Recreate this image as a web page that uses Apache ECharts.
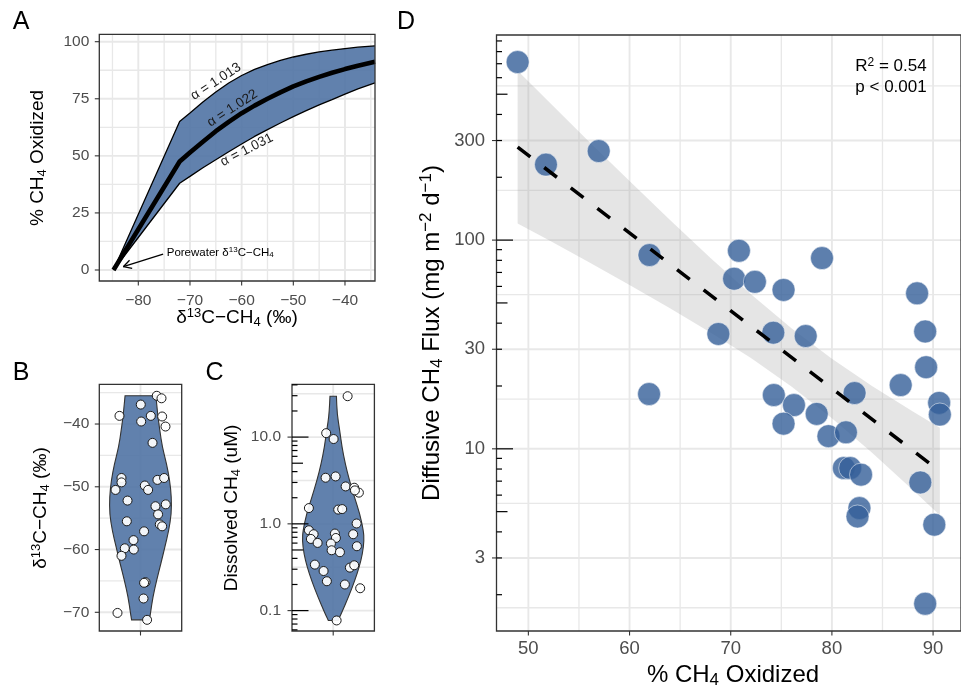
<!DOCTYPE html>
<html><head><meta charset="utf-8">
<script src="https://cdn.jsdelivr.net/npm/echarts@6/dist/echarts.min.js"></script>
<style>html,body{margin:0;padding:0;background:#fff}#c{width:961px;height:687px}</style>
</head><body><div id="c"></div>
<script>
// ---------------- Panel A: Rayleigh curves ----------------
const aDelta     = [-84.8, -72, -70, -67.5, -65, -62.5, -60, -57.5, -55, -52.5, -50, -47.5, -45, -42.5, -40, -37.5, -34.2];
const aAlpha1013 = [0, 65, 68.8, 73.6, 78, 81.9, 85.2, 87.9, 90, 91.8, 93.3, 94.5, 95.5, 96.3, 97, 97.6, 98.2];
const aAlpha1022 = [0, 47.5, 51.5, 56.2, 60.8, 64.9, 68.7, 72, 75, 77.8, 80.4, 82.6, 84.6, 86.4, 88, 89.5, 91.2];
const aAlpha1031 = [0, 38, 41, 44.8, 48.3, 51.8, 55.2, 58.5, 61.5, 64.4, 67.2, 69.8, 72.3, 74.6, 77, 79.3, 82];
const aXTicks = [-80, -70, -60, -50, -40];
const aXLabels = ['\u221280', '\u221270', '\u221260', '\u221250', '\u221240'];
const aXMinor = [-85, -75, -65, -55, -45, -35];
const aYTicks = [0, 25, 50, 75, 100];
const aYLabels = ['0', '25', '50', '75', '100'];
const aYMinor = [12.5, 37.5, 62.5, 87.5];

// ---------------- Panel B: porewater d13C ----------------
const bDelta13C = [-35.5, -35.9, -36.9, -38.7, -38.7, -39.6, -38.8, -40.4, -43.0, -48.6, -49.3, -50.5, -49.8, -50.5, -48.9, -48.6, -52.2, -53.1, -52.8, -54.4, -56.0, -56.3, -55.5, -57.1, -58.5, -59.8, -60.0, -61.0, -65.2, -65.3, -67.8, -71.2, -70.1];
const bJitter = [0.237, 0.306, 0.004, -0.306, 0.150, 0.010, 0.315, 0.364, 0.175, -0.277, -0.277, -0.364, 0.063, 0.111, 0.247, 0.344, -0.189, 0.218, 0.368, 0.256, 0.281, 0.315, -0.199, 0.052, -0.102, -0.229, -0.098, -0.277, 0.073, 0.052, 0.044, 0.096, -0.335];
const bViolinY = [-35.5, -38.4, -41.0, -43.7, -46.3, -49.0, -51.6, -54.3, -57.0, -59.6, -62.3, -64.9, -67.6, -70.2, -71.2];
const bViolinHalfWidth = [0.225, 0.249, 0.281, 0.318, 0.379, 0.426, 0.45, 0.45, 0.411, 0.355, 0.295, 0.235, 0.179, 0.145, 0.130];
const bYTicks = [-70, -60, -50, -40];
const bYLabels = ['\u221270', '\u221260', '\u221250', '\u221240'];
const bYMinor = [-65, -55, -45, -35];

// ---------------- Panel C: dissolved CH4 ----------------
const cDissolvedCH4 = [29.6, 11.1, 9.5, 3.40, 3.52, 2.70, 2.61, 2.29, 2.43, 1.52, 1.46, 1.48, 1.01, 0.844, 0.759, 0.670, 0.603, 0.773, 0.687, 0.593, 0.496, 0.471, 0.759, 0.552, 0.339, 0.286, 0.218, 0.313, 0.333, 0.200, 0.181, 0.077];
const cJitter = [0.210, -0.102, 0.006, -0.111, 0.035, 0.181, 0.306, 0.374, 0.316, -0.354, 0.073, 0.131, 0.341, -0.354, -0.285, -0.325, -0.227, 0.025, 0.039, -0.033, -0.023, 0.098, 0.291, 0.345, -0.267, -0.140, -0.092, 0.243, 0.306, 0.170, 0.393, 0.050];
const cViolinY = [29.6, 18.6, 11.9, 7.67, 4.93, 3.17, 2.04, 1.31, 0.841, 0.646, 0.454, 0.318, 0.223, 0.144, 0.092, 0.077];
const cViolinHalfWidth = [0.047, 0.057, 0.095, 0.128, 0.175, 0.237, 0.309, 0.387, 0.440, 0.450, 0.427, 0.379, 0.316, 0.223, 0.118, 0.071];
const cYTicks = [0.1, 1, 10];
const cYLabels = ['0.1', '1.0', '10.0'];
const cYMinor = [0.0316, 0.316, 3.16, 31.6];

// ---------------- Panel D: flux vs % oxidized ----------------
const dOxidized = [48.94, 51.74, 56.95, 61.97, 70.81, 70.33, 72.39, 75.22, 79.02, 88.42, 68.78, 74.21, 77.41, 89.22, 89.31, 86.80, 82.24, 74.26, 76.25, 78.50, 75.22, 79.66, 81.39, 90.60, 90.67, 81.18, 81.81, 82.88, 88.74, 82.72, 82.53, 90.12, 89.22, 61.93];
const dFlux = [713, 230, 267, 84.8, 88.9, 65.3, 63.1, 57.7, 82.0, 55.6, 35.5, 36.0, 34.7, 36.5, 24.6, 20.2, 18.5, 18.1, 16.2, 14.7, 13.2, 11.5, 12.0, 16.6, 14.6, 8.09, 8.09, 7.52, 6.90, 5.20, 4.74, 4.33, 1.81, 18.3];
const dFitX = [48.94, 90.67];
const dFitY = [279, 7.8];
const dBandX = [48.94, 52, 56, 60, 64, 68, 72, 76, 80, 84, 88, 90.67];
const dBandLow = [120, 100, 78.3, 61.0, 47.2, 36.1, 27.2, 19.9, 14.0, 9.55, 6.35, 4.81];
const dBandHigh = [647, 461, 296, 192, 125, 82.0, 55.0, 37.8, 27.0, 19.95, 15.1, 12.6];
const dXTicks = [50, 60, 70, 80, 90];
const dXLabels = ['50', '60', '70', '80', '90'];
const dXMinor = [55, 65, 75, 85];
const dYTicks = [3, 10, 30, 100, 300];
const dYLabels = ['3', '10', '30', '100', '300'];
const dYMinor = [1.732, 5.477, 17.32, 54.77, 173.2, 547.7];

// ---------------- styling helpers ----------------
const FONT = '"Liberation Sans", Arial, Helvetica, sans-serif';
const GRID_COL = '#E8E8E8';
const TXT = '#4D4D4D';
const BLUE = 'rgba(75,112,162,0.88)';

function rich(size) {
  return {
    n: {fontSize: size, fontFamily: FONT, lineHeight: size * 1.15, verticalAlign: 'middle'},
    sub: {fontSize: Math.round(size * 0.7), fontFamily: FONT, lineHeight: size * 0.55, verticalAlign: 'bottom'},
    sup: {fontSize: Math.round(size * 0.7), fontFamily: FONT, lineHeight: size * 0.55, verticalAlign: 'top'}
  };
}
function zip(a, b) { return a.map((v, i) => [v, b[i]]); }

function decor(cfg, layer) {
  return function (params, api) {
    const cs = params.coordSys;
    const x0 = cs.x, x1 = cs.x + cs.width, y0 = cs.y, y1 = cs.y + cs.height;
    const X = v => api.coord([v, cfg.refY])[0];
    const Y = v => api.coord([cfg.refX, v])[1];
    const ch = [];
    const ln = (a, b, c, d, col, w) => ch.push({type: 'line', shape: {x1: a, y1: b, x2: c, y2: d}, style: {stroke: col, lineWidth: w}});
    if (layer === 'grid') {
      (cfg.yMinor || []).forEach(v => { const p = Y(v); if (p > y0 && p < y1) ln(x0, p, x1, p, GRID_COL, 1.3); });
      (cfg.xMinor || []).forEach(v => { const p = X(v); if (p > x0 && p < x1) ln(p, y0, p, y1, GRID_COL, 1.3); });
      cfg.yMajor.forEach(v => { const p = Y(v); ln(x0, p, x1, p, GRID_COL, 1.9); });
      cfg.xMajor.forEach(v => { const p = X(v); ln(p, y0, p, y1, GRID_COL, 1.9); });
    } else {
      ch.push({type: 'rect', shape: {x: x0, y: y0, width: cs.width, height: cs.height}, style: {fill: 'none', stroke: '#333', lineWidth: 1.3}});
      cfg.xTicks.forEach((v, i) => {
        const p = X(v);
        ln(p, y1, p, y1 + 4.5, '#333', 1.1);
        if (cfg.xLabels) ch.push({type: 'text', x: p, y: y1 + cfg.gapX, style: {text: cfg.xLabels[i], font: cfg.font + 'px ' + FONT, fill: TXT, align: 'center', verticalAlign: 'middle'}});
      });
      cfg.yTicks.forEach((v, i) => {
        const p = Y(v);
        ln(x0 - 4.5, p, x0, p, '#333', 1.1);
        ch.push({type: 'text', x: x0 - cfg.gapY, y: p, style: {text: cfg.yLabels[i], font: cfg.font + 'px ' + FONT, fill: TXT, align: 'right', verticalAlign: 'middle'}});
      });
      if (cfg.logTicks) {
        for (let e = -2; e <= 3; e++) {
          for (let m = 1; m <= 9; m++) {
            const v = m * Math.pow(10, e);
            const p = Y(v);
            if (p < y0 || p > y1) continue;
            const len = m === 1 ? 16.5 : (m === 5 ? 11 : 5.5);
            ln(x0, p, x0 + len, p, '#000', 1.2);
          }
        }
      }
    }
    return {type: 'group', children: ch};
  };
}

const cfgA = {refX: -60, refY: 50, xMajor: aXTicks, xMinor: aXMinor, yMajor: aYTicks, yMinor: aYMinor, xTicks: aXTicks, xLabels: aXLabels, yTicks: aYTicks, yLabels: aYLabels, font: 15.5, gapX: 19.5, gapY: 10};
const cfgB = {refX: 1, refY: -50, xMajor: [1], xMinor: [], yMajor: bYTicks, yMinor: bYMinor, xTicks: [1], xLabels: null, yTicks: bYTicks, yLabels: bYLabels, font: 15.5, gapX: 19.5, gapY: 10};
const cfgC = {refX: 1, refY: 1, xMajor: [1], xMinor: [], yMajor: cYTicks, yMinor: cYMinor, xTicks: [1], xLabels: null, yTicks: cYTicks, yLabels: cYLabels, font: 15.5, gapX: 19.5, gapY: 11, logTicks: true};
const cfgD = {refX: 60, refY: 10, xMajor: dXTicks, xMinor: dXMinor, yMajor: dYTicks, yMinor: dYMinor, xTicks: dXTicks, xLabels: dXLabels, yTicks: dYTicks, yLabels: dYLabels, font: 18.5, gapX: 18, gapY: 11.5, logTicks: true};

function smoothPath(p, move) {
  let s = (move ? 'M ' : 'L ') + p[0][0] + ' ' + p[0][1];
  for (let i = 1; i < p.length - 1; i++) {
    const mx = (p[i][0] + p[i + 1][0]) / 2, my = (p[i][1] + p[i + 1][1]) / 2;
    s += ' Q ' + p[i][0] + ' ' + p[i][1] + ' ' + mx + ' ' + my;
  }
  s += ' L ' + p[p.length - 1][0] + ' ' + p[p.length - 1][1];
  return s;
}
function violin(ys, hws) {
  return function (params, api) {
    const left = ys.map((y, i) => api.coord([1 - hws[i], y]));
    const right = ys.map((y, i) => api.coord([1 + hws[i], y]));
    const d = smoothPath(left, true) + ' ' + smoothPath(right.slice().reverse(), false) + ' Z';
    return {type: 'path', shape: {pathData: d}, style: {fill: BLUE, stroke: '#333', lineWidth: 1.1}};
  };
}
function bandA(params, api) {
  const pts = aDelta.map((x, i) => api.coord([x, aAlpha1013[i]]));
  for (let i = aDelta.length - 1; i >= 0; i--) pts.push(api.coord([aDelta[i], aAlpha1031[i]]));
  return {type: 'polygon', shape: {points: pts}, style: {fill: BLUE}};
}
function bandD(params, api) {
  const pts = dBandX.map((x, i) => api.coord([x, dBandHigh[i]]));
  for (let i = dBandX.length - 1; i >= 0; i--) pts.push(api.coord([dBandX[i], dBandLow[i]]));
  return {type: 'polygon', shape: {points: pts}, style: {fill: 'rgba(153,153,153,0.25)'}};
}
function annoA(params, api) {
  const ch = [];
  const labels = [
    {t: '\u03b1 = 1.013', x: -65.0, y: 82.5, a: 33},
    {t: '\u03b1 = 1.022', x: -61.8, y: 70.8, a: 33},
    {t: '\u03b1 = 1.031', x: -59.0, y: 52.6, a: 27}
  ];
  labels.forEach(l => {
    const p = api.coord([l.x, l.y]);
    ch.push({type: 'text', x: p[0], y: p[1], rotation: l.a * Math.PI / 180, style: {text: l.t, font: '13.5px ' + FONT, fill: '#1a1a1a', align: 'center', verticalAlign: 'middle'}});
  });
  const s = api.coord([-75.2, 7.0]), e = api.coord([-82.9, 1.45]);
  const ls = {stroke: '#000', lineWidth: 1.3};
  ch.push({type: 'line', shape: {x1: s[0], y1: s[1], x2: e[0], y2: e[1]}, style: ls});
  const ang = Math.atan2(s[1] - e[1], s[0] - e[0]);
  [-0.5, 0.5].forEach(dA => ch.push({type: 'line', shape: {x1: e[0], y1: e[1], x2: e[0] + 9 * Math.cos(ang + dA), y2: e[1] + 9 * Math.sin(ang + dA)}, style: ls}));
  const t = api.coord([-74.5, 7.6]);
  ch.push({type: 'text', x: t[0], y: t[1], style: {text: '{n|Porewater \u03b4}{sup|13}{n|C\u2212CH}{sub|4}', rich: rich(11.5), fill: '#000', align: 'left', verticalAlign: 'middle'}});
  return {type: 'group', children: ch};
}

function title(x, y, text, size, rot) {
  return {type: 'text', x: x, y: y, rotation: rot ? Math.PI / 2 : 0, z: 10,
    style: {text: text, rich: rich(size), fill: '#000', align: 'center', verticalAlign: 'middle'}};
}
function letter(x, y, t) {
  return {type: 'text', x: x, y: y, z: 10, style: {text: t, font: '25px ' + FONT, fill: '#000', align: 'center', verticalAlign: 'middle'}};
}

const chart = echarts.init(document.getElementById('c'), null, {renderer: 'canvas'});
const option = {
  animation: false,
  backgroundColor: '#fff',
  grid: [
    {left: 99.3, top: 34.3, width: 275.7, height: 246.7},
    {left: 99.3, top: 384.3, width: 82.4, height: 246.7},
    {left: 292, top: 384.3, width: 82.4, height: 246.7},
    {left: 496.5, top: 35, width: 475.2, height: 596}
  ],
  xAxis: [
    {gridIndex: 0, type: 'value', min: -87.55, max: -34.19, show: false},
    {gridIndex: 1, type: 'value', min: 0.4, max: 1.6, show: false},
    {gridIndex: 2, type: 'value', min: 0.4, max: 1.6, show: false},
    {gridIndex: 3, type: 'value', min: 46.85, max: 92.76, show: false}
  ],
  yAxis: [
    {gridIndex: 0, type: 'value', min: -4.82, max: 103.24, show: false},
    {gridIndex: 1, type: 'value', min: -72.98, max: -33.67, show: false},
    {gridIndex: 2, type: 'log', min: 0.0582, max: 40.6, show: false},
    {gridIndex: 3, type: 'log', min: 1.34, max: 961, show: false}
  ],
  series: [
    // A
    {type: 'custom', xAxisIndex: 0, yAxisIndex: 0, z: 1, silent: true, data: [[-60, 50]], renderItem: decor(cfgA, 'grid')},
    {type: 'custom', xAxisIndex: 0, yAxisIndex: 0, z: 2, silent: true, data: [[-60, 50]], renderItem: bandA},
    {type: 'line', name: 'alpha 1.013', xAxisIndex: 0, yAxisIndex: 0, z: 3, data: zip(aDelta, aAlpha1013), symbol: 'none', lineStyle: {color: '#000', width: 1.3}},
    {type: 'line', name: 'alpha 1.031', xAxisIndex: 0, yAxisIndex: 0, z: 3, data: zip(aDelta, aAlpha1031), symbol: 'none', lineStyle: {color: '#000', width: 1.3}},
    {type: 'line', name: 'alpha 1.022', xAxisIndex: 0, yAxisIndex: 0, z: 3, data: zip(aDelta, aAlpha1022), symbol: 'none', lineStyle: {color: '#000', width: 4.6}},
    {type: 'custom', xAxisIndex: 0, yAxisIndex: 0, z: 5, silent: true, data: [[-60, 50]], renderItem: annoA},
    {type: 'custom', xAxisIndex: 0, yAxisIndex: 0, z: 6, silent: true, data: [[-60, 50]], renderItem: decor(cfgA, 'frame')},
    // B
    {type: 'custom', xAxisIndex: 1, yAxisIndex: 1, z: 1, silent: true, data: [[1, -50]], renderItem: decor(cfgB, 'grid')},
    {type: 'custom', xAxisIndex: 1, yAxisIndex: 1, z: 2, silent: true, data: [[1, -50]], renderItem: violin(bViolinY, bViolinHalfWidth)},
    {type: 'scatter', xAxisIndex: 1, yAxisIndex: 1, z: 4, data: bDelta13C.map((v, i) => [1 + bJitter[i], v]), symbolSize: 9,
      itemStyle: {color: 'rgba(255,255,255,0.92)', borderColor: '#1a1a1a', borderWidth: 1, opacity: 1}},
    {type: 'custom', xAxisIndex: 1, yAxisIndex: 1, z: 6, silent: true, data: [[1, -50]], renderItem: decor(cfgB, 'frame')},
    // C
    {type: 'custom', xAxisIndex: 2, yAxisIndex: 2, z: 1, silent: true, data: [[1, 1]], renderItem: decor(cfgC, 'grid')},
    {type: 'custom', xAxisIndex: 2, yAxisIndex: 2, z: 2, silent: true, data: [[1, 1]], renderItem: violin(cViolinY, cViolinHalfWidth)},
    {type: 'scatter', xAxisIndex: 2, yAxisIndex: 2, z: 4, data: cDissolvedCH4.map((v, i) => [1 + cJitter[i], v]), symbolSize: 9,
      itemStyle: {color: 'rgba(255,255,255,0.92)', borderColor: '#1a1a1a', borderWidth: 1, opacity: 1}},
    {type: 'custom', xAxisIndex: 2, yAxisIndex: 2, z: 6, silent: true, data: [[1, 1]], renderItem: decor(cfgC, 'frame')},
    // D
    {type: 'custom', xAxisIndex: 3, yAxisIndex: 3, z: 1, silent: true, data: [[60, 10]], renderItem: decor(cfgD, 'grid')},
    {type: 'custom', xAxisIndex: 3, yAxisIndex: 3, z: 2, silent: true, data: [[60, 10]], renderItem: bandD},
    {type: 'scatter', xAxisIndex: 3, yAxisIndex: 3, z: 4, data: zip(dOxidized, dFlux), symbolSize: 23,
      itemStyle: {color: 'rgba(52,95,152,0.8)', borderColor: 'rgba(255,255,255,0.5)', borderWidth: 1, opacity: 1}},
    {type: 'line', xAxisIndex: 3, yAxisIndex: 3, z: 5, data: zip(dFitX, dFitY), symbol: 'none',
      lineStyle: {color: '#000', width: 3.5, type: [16, 17.5]}},
    {type: 'custom', xAxisIndex: 3, yAxisIndex: 3, z: 6, silent: true, data: [[60, 10]], renderItem: decor(cfgD, 'frame')}
  ],
  graphic: [
    letter(21, 22.5, 'A'), letter(21, 373, 'B'), letter(214.5, 373, 'C'), letter(406, 22, 'D'),
    title(38, 158, '{n|% CH}{sub|4}{n| Oxidized}', 19, true),
    title(237, 318, '{n|\u03b4}{sup|13}{n|C\u2212CH}{sub|4}{n| (\u2030)}', 19, false),
    title(41, 508, '{n|\u03b4}{sup|13}{n|C\u2212CH}{sub|4}{n| (\u2030)}', 19, true),
    title(231.5, 508, '{n|Dissolved CH}{sub|4}{n| (uM)}', 19, true),
    title(432, 333, '{n|Diffusive CH}{sub|4}{n| Flux (mg m}{sup|\u22122}{n| d}{sup|\u22121}{n|)}', 24, true),
    title(733, 675, '{n|% CH}{sub|4}{n| Oxidized}', 24, false),
    title(891, 66, '{n|R}{sup|2}{n| = 0.54}', 17, false),
    title(891, 87, '{n|p < 0.001}', 17, false)
  ]
};
chart.setOption(option);
</script>
</body></html>
